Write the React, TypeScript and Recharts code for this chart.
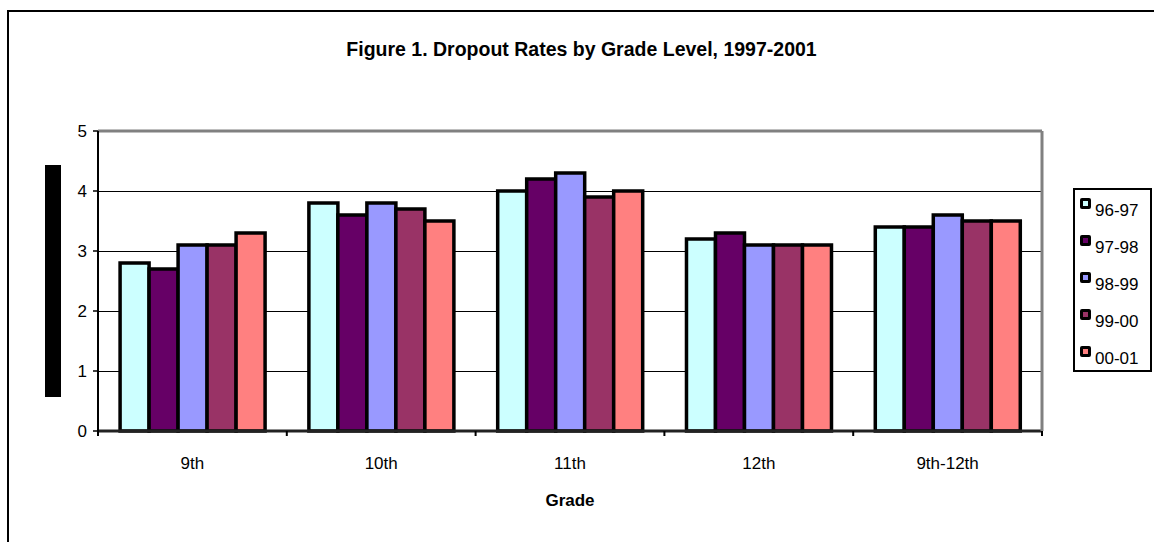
import { BarChart, Bar, XAxis, YAxis, CartesianGrid, ReferenceLine, Legend } from 'recharts'

const GRADES = ['9th', '10th', '11th', '12th', '9th-12th']
const YEARS = ['96-97', '97-98', '98-99', '99-00', '00-01']
const COLORS = ['#CCFFFF', '#660066', '#9999FF', '#993366', '#FF8080']

const RATES_96_97 = [2.8, 3.8, 4.0, 3.2, 3.4]
const RATES_97_98 = [2.7, 3.6, 4.2, 3.3, 3.4]
const RATES_98_99 = [3.1, 3.8, 4.3, 3.1, 3.6]
const RATES_99_00 = [3.1, 3.7, 3.9, 3.1, 3.5]
const RATES_00_01 = [3.3, 3.5, 4.0, 3.1, 3.5]

const Y_TICKS = [0, 1, 2, 3, 4, 5]

const SERIES = [RATES_96_97, RATES_97_98, RATES_98_99, RATES_99_00, RATES_00_01]

const FONT = '"Liberation Sans", Arial, sans-serif'

const data = GRADES.map((grade, i) => {
  const row: Record<string, string | number> = { grade }
  YEARS.forEach((y, s) => { row[y] = SERIES[s][i] })
  return row
})

// black block where the y axis title should be
function YTitleBlock({ viewBox }: any) {
  if (!viewBox) return null
  const cy = viewBox.y + viewBox.height / 2
  return <rect x={viewBox.x + 36} y={cy - 116} width={16} height={232} fill="#000" />
}

function GradeLabel({ viewBox }: any) {
  if (!viewBox) return null
  return (
    <text x={viewBox.x + viewBox.width / 2} y={viewBox.y + 75} textAnchor="middle"
      fontFamily={FONT} fontSize={17} fontWeight="bold" fill="#000">
      Grade
    </text>
  )
}

// category label plus Excel-style tick marks on the category boundaries
function GradeTick(props: any) {
  const { x, y, payload, index, visibleTicksCount, width } = props
  const half = payload?.offset ?? (width / visibleTicksCount / 2)
  const axisY = y - 26
  const left = payload.coordinate - half
  const right = payload.coordinate + half
  return (
    <g>
      <line x1={left} x2={left} y1={axisY} y2={axisY + 5} stroke="#000" strokeWidth={2} />
      {index === visibleTicksCount - 1 && (
        <line x1={right} x2={right} y1={axisY} y2={axisY + 5} stroke="#000" strokeWidth={2} />
      )}
      <text x={x} y={y} dy="0.71em" textAnchor="middle" fontFamily={FONT} fontSize={17} fill="#000">
        {payload.value}
      </text>
    </g>
  )
}

function LegendBox({ payload }: any) {
  const items = [...(payload || [])].sort(
    (a: any, b: any) => YEARS.indexOf(a.value) - YEARS.indexOf(b.value),
  )
  return (
    <div style={{
      border: '2px solid #000', width: 79, height: 184, boxSizing: 'border-box',
      paddingTop: 8, paddingLeft: 5, background: '#fff', fontFamily: FONT,
    }}>
      {items.map((p: any) => (
        <div key={p.value} style={{ display: 'flex', alignItems: 'flex-start', height: 37 }}>
          <div style={{
            width: 11, height: 11, background: '#000', borderRadius: 2,
            display: 'flex', alignItems: 'center', justifyContent: 'center', flexShrink: 0,
          }}>
            <div style={{ width: 5, height: 5, background: p.color }} />
          </div>
          <span style={{ fontSize: 17, lineHeight: '17px', marginLeft: 4, marginTop: 4, color: '#000' }}>
            {p.value}
          </span>
        </div>
      ))}
    </div>
  )
}

export default function App() {
  return (
    <div style={{
      position: 'fixed', left: 7, top: 10, width: 1147, height: 532,
      borderLeft: '2px solid #000', borderTop: '2px solid #000', background: '#fff',
    }}>
      <div style={{
        position: 'absolute', left: 0, top: 27, width: 1145, textAlign: 'center',
        fontFamily: FONT, fontWeight: 'bold', fontSize: 19.5, lineHeight: '20px', color: '#000',
      }}>
        Figure 1. Dropout Rates by Grade Level, 1997-2001
      </div>
      <BarChart
        width={1145}
        height={530}
        data={data}
        margin={{ top: 119, right: 110, left: 0, bottom: 0 }}
        barCategoryGap="11.7%"
        barGap={0}
      >
        <CartesianGrid vertical={false} yAxisId="left" stroke="#000" strokeWidth={1} shapeRendering="crispEdges" />
        <XAxis
          dataKey="grade"
          height={111}
          interval={0}
          tickLine={false}
          tickSize={0}
          axisLine={{ stroke: '#222', strokeWidth: 3 }}
          tickMargin={26}
          tick={<GradeTick />}
          label={<GradeLabel />}
        />
        <YAxis
          yAxisId="left"
          domain={[0, 5]}
          ticks={Y_TICKS}
          interval={0}
          width={89}
          tickSize={5}
          tickMargin={6}
          axisLine={{ stroke: '#000', strokeWidth: 2 }}
          tickLine={{ stroke: '#000', strokeWidth: 1.5 }}
          tick={{ fontFamily: FONT, fontSize: 17, fill: '#000' }}
          label={<YTitleBlock />}
        />
        <YAxis
          yAxisId="right"
          orientation="right"
          domain={[0, 5]}
          width={2}
          tick={false}
          tickLine={false}
          axisLine={{ stroke: '#808080', strokeWidth: 3 }}
        />
        <ReferenceLine y={5} yAxisId="left" stroke="#808080" strokeWidth={3} />
        {YEARS.map((y, s) => (
          <Bar
            key={y}
            dataKey={y}
            name={y}
            yAxisId="left"
            fill={COLORS[s]}
            stroke="#000"
            strokeWidth={3.5}
            isAnimationActive={false}
          />
        ))}
        <Legend
          layout="horizontal"
          verticalAlign="middle"
          align="center"
          content={<LegendBox />}
          wrapperStyle={{ left: 1064, top: 176, width: 79, height: 184, right: 'auto', bottom: 'auto' }}
        />
      </BarChart>
    </div>
  )
}
